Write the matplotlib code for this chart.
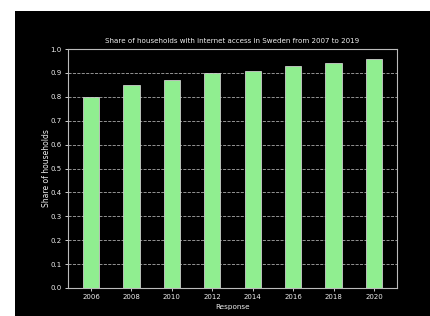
import matplotlib
matplotlib.use("Agg")
import matplotlib.pyplot as plt
from matplotlib.patches import Rectangle

years = [2006, 2008, 2010, 2012, 2014, 2016, 2018, 2020]
shares = [0.80, 0.85, 0.87, 0.90, 0.91, 0.93, 0.94, 0.96]
yticks = [0.0, 0.1, 0.2, 0.3, 0.4, 0.5, 0.6, 0.7, 0.8, 0.9, 1.0]

fig = plt.figure(figsize=(4.30, 3.16), dpi=100, facecolor="white")
fig.patches.append(Rectangle((15/430, 0), 1 - 15/430, 1 - 11/316, transform=fig.transFigure,
                             facecolor="black", edgecolor="none", zorder=-10))
ax = fig.add_axes([68/430, 1 - 288/316, (397 - 68)/430, (288 - 49)/316])
ax.set_facecolor("black")
txt = "#eeeeee"
ax.bar(years, shares, width=0.8, color="#90EE90", edgecolor="#cccccc", linewidth=0.6, zorder=3)
ax.set_ylim(0, 1.0)
ax.set_yticks(yticks)
ax.set_yticklabels([f"{v:.1f}" for v in yticks])
ax.set_xticks(years)
ax.grid(axis="y", linestyle="--", color="#aaaaaa", linewidth=0.6, zorder=0)
for s in ax.spines.values():
    s.set_color("#bbbbbb")
    s.set_linewidth(0.8)
ax.tick_params(colors=txt, labelsize=5, length=2, width=0.6, pad=2.5)
ax.set_title("Share of households with internet access in Sweden from 2007 to 2019",
             color=txt, fontsize=5.1, pad=4)
ax.set_xlabel("Response", color=txt, fontsize=5.2, labelpad=2.5)
ax.set_ylabel("Share of households", color=txt, fontsize=5.5, labelpad=-0.5)
fig.savefig("out.png", dpi=100, facecolor="white")
